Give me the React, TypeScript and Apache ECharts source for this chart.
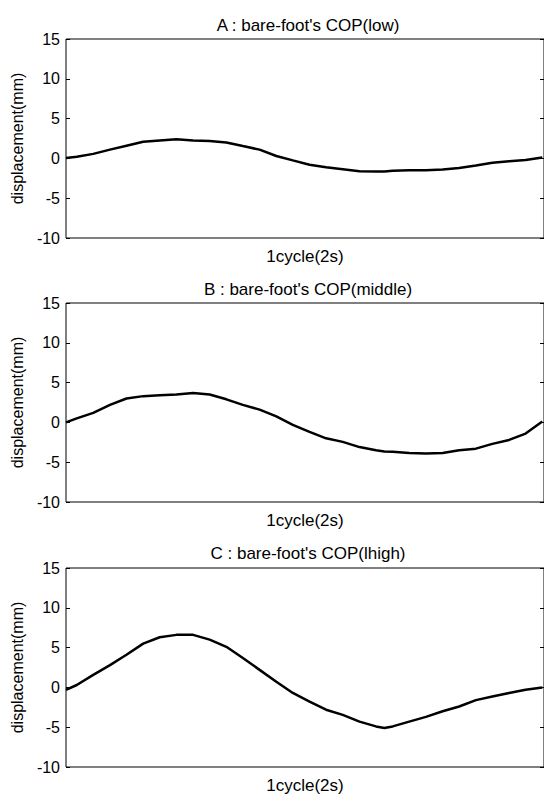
import React, { useEffect, useRef } from "react";
import * as echarts from "echarts";

// time within one cycle (s)
const timeS = [
  0, 0.045, 0.114, 0.184, 0.253, 0.323, 0.392, 0.462, 0.532, 0.601, 0.671,
  0.74, 0.81, 0.88, 0.949, 1.019, 1.088, 1.158, 1.228, 1.297, 1.332, 1.367,
  1.436, 1.506, 1.576, 1.645, 1.715, 1.784, 1.854, 1.923, 1.993,
];

// displacement (mm)
const lowCOP = [
  0.05, 0.2, 0.57, 1.1, 1.6, 2.1, 2.25, 2.4, 2.25, 2.2, 2.0, 1.55, 1.1, 0.3,
  -0.25, -0.8, -1.1, -1.35, -1.6, -1.65, -1.65, -1.55, -1.5, -1.5, -1.4, -1.2,
  -0.9, -0.55, -0.35, -0.2, 0.1,
];
const middleCOP = [
  0.0, 0.5, 1.2, 2.2, 3.0, 3.3, 3.4, 3.5, 3.7, 3.5, 2.9, 2.2, 1.6, 0.75, -0.3,
  -1.2, -2.0, -2.45, -3.1, -3.5, -3.65, -3.7, -3.85, -3.9, -3.85, -3.5, -3.3,
  -2.7, -2.2, -1.4, 0.1,
];
const highCOP = [
  -0.3, 0.3, 1.57, 2.8, 4.1, 5.5, 6.3, 6.6, 6.6, 6.0, 5.1, 3.7, 2.2, 0.7, -0.7,
  -1.8, -2.8, -3.45, -4.3, -4.9, -5.1, -4.9, -4.3, -3.7, -3.0, -2.4, -1.6,
  -1.15, -0.7, -0.3, 0.0,
];

const panelTitles = [
  "A : bare-foot's COP(low)",
  "B : bare-foot's COP(middle)",
  "C : bare-foot's COP(lhigh)",
];
const xAxisName = "1cycle(2s)";
const yAxisName = "displacement(mm)";
const yMin = -10;
const yMax = 15;
const yStep = 5;

const FONT = "'Liberation Sans', Arial, sans-serif";

export default function App() {
  const ref = useRef<HTMLDivElement>(null);

  useEffect(() => {
    if (!ref.current) return;
    const chart = echarts.init(ref.current, undefined, { renderer: "svg" });
    const seriesData = [lowCOP, middleCOP, highCOP];
    const gridTops = [39, 303, 568];
    const titleTops = [12, 276, 540];
    const gridHeight = 199;

    const grids = gridTops.map((top) => ({
      left: 66,
      right: -1,
      top,
      height: gridHeight,
      show: true,
      borderColor: "#000",
      borderWidth: 1,
      backgroundColor: "#fff",
    }));

    const xAxes = gridTops.map((_, i) => ({
      type: "value",
      gridIndex: i,
      min: 0,
      max: 2,
      axisLine: { show: false },
      axisTick: { show: false },
      axisLabel: { show: false },
      splitLine: { show: false },
      name: xAxisName,
      nameLocation: "middle",
      nameGap: 10,
      nameTextStyle: { color: "#000", fontSize: 17, fontFamily: FONT },
    }));

    const yAxes: any[] = [];
    gridTops.forEach((_, i) => {
      yAxes.push({
        type: "value",
        gridIndex: i,
        position: "left",
        min: yMin,
        max: yMax,
        interval: yStep,
        axisLine: { show: false },
        axisTick: { show: true, inside: true, length: 4, lineStyle: { color: "#000" } },
        axisLabel: { color: "#000", fontSize: 16, fontFamily: FONT, margin: 6 },
        splitLine: { show: false },
        name: yAxisName,
        nameLocation: "middle",
        nameGap: 39,
        nameRotate: 90,
        nameTextStyle: { color: "#000", fontSize: 16, fontFamily: FONT },
      });
      yAxes.push({
        type: "value",
        gridIndex: i,
        position: "right",
        min: yMin,
        max: yMax,
        interval: yStep,
        axisLine: { show: false },
        axisTick: { show: true, inside: true, length: 4, lineStyle: { color: "#000" } },
        axisLabel: { show: false },
        splitLine: { show: false },
      });
    });

    const series = seriesData.map((vals, i) => ({
      type: "line",
      xAxisIndex: i,
      yAxisIndex: i * 2,
      data: timeS.map((t, k) => [t, vals[k]]),
      showSymbol: false,
      symbol: "none",
      lineStyle: { color: "#000", width: 2.5 },
      smooth: false,
    }));

    chart.setOption({
      animation: false,
      backgroundColor: "#fff",
      title: panelTitles.map((text, i) => ({
        text,
        left: 303,
        top: titleTops[i],
        textAlign: "center",
        textStyle: { color: "#000", fontSize: 17, fontWeight: "normal", fontFamily: FONT },
      })),
      grid: grids,
      xAxis: xAxes,
      yAxis: yAxes,
      series,
    });

    return () => chart.dispose();
  }, []);

  return (
    <div
      ref={ref}
      style={{ position: "absolute", left: 0, top: 0, width: 544, height: 796, background: "#fff" }}
    />
  );
}
